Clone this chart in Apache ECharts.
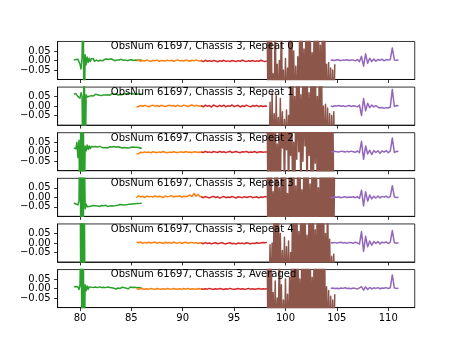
<!DOCTYPE html>
<html><head><meta charset="utf-8">
<script src="https://cdn.jsdelivr.net/npm/echarts@6/dist/echarts.min.js"></script>
<style>html,body{margin:0;padding:0;background:#fff}#c{width:461px;height:346px}</style>
</head><body><div id="c"></div>
<script>
const titles = ["ObsNum 61697, Chassis 3, Repeat 0","ObsNum 61697, Chassis 3, Repeat 1","ObsNum 61697, Chassis 3, Repeat 2","ObsNum 61697, Chassis 3, Repeat 3","ObsNum 61697, Chassis 3, Repeat 4","ObsNum 61697, Chassis 3, Averaged"];
const xTicks = [80,85,90,95,100,105,110];
const yTicks = [-0.05,0,0.05];
const titleX = 83, titleY = 0.072;

// sampling of each band (x start, x step)
const greenStart=79.4, greenStep=0.1;
const orangeStart=85.5, orangeStep=0.2;
const redStart=91.8, redStep=0.2;
const brownStart=98.2, brownStep=0.1;
const purpleStart=104.4, purpleStep=0.2;

// ---- Repeat 0 ----
const green0=[.003,0,.005,-.004,.006,.012,-.02,-.045,.015,.4,
-.4,.03,-.022,.018,-.01,.012,-.006,.009,0,.01,
-.004,.006,.002,.008,-.003,.005,.001,.007,-.002,.004,
.006,.001,.008,-.002,.005,.003,.009,0,.004,.007,
-.001,.006,.002,.008,.003,-.002,.006,.004,.001,.007,
.003,.009,-.001,.005,.002,.006,.004,.008,0,.005,
.003,.007,.001,.006,.002,.004,.003];
const orange0=[-.001,.002,-.004,0,-.003,.003,-.002,-.005,.001,-.002,
.002,-.004,0,-.001,-.003,.002,-.002,.001,-.004,-.001,
.003,-.002,0,-.003,.002,-.001,-.004,.001,-.002,.003,
-.001,-.003,.002];
const red0=[-.002,-.006,.001,-.004,-.001,-.005,0,-.003,-.007,-.001,
-.004,.001,-.005,-.002,-.006,0,-.003,-.005,-.001,-.004,
.002,-.003,-.006,-.001,-.004,0,-.005,-.002,-.004,.001,
-.003,-.006,-.002];
const brown0=[.3,-.3,.3,-.3,.3,-.3,-.07,-.3,.3,-.3,
-.02,-.3,0,-.3,.3,-.3,-.05,-.3,.01,-.3,
-.04,-.3,.3,-.3,.3,-.3,.05,-.3,-.03,-.3,
.02,-.3,.3,-.3,.3,-.3,.06,-.3,.3,-.3,
.3,-.3,.3,-.3,.04,-.3,.3,-.3,.3,-.3,
.3,-.3,.08,-.3,.3,-.3,.3,-.3,-.02,-.3,
-.01,-.3,-.04,-.3,-.05,-.3,-.02];
const purple0=[.001,.003,0,.004,.002,-.001,.003,.001,.004,0,
.003,.002,-.002,.005,-.006,.022,-.03,.035,-.015,.012,
-.006,.008,-.004,.006,.001,.007,-.002,.005,.002,.004,
.066,.003,.001,.002];

// ---- Repeat 1 ----
const green1=[.063,.058,.066,.06,.05,.045,.042,.07,.05,-.4,
.4,-.4,.06,.048,.058,.052,.062,.055,.06,.053,
.058,.062,.055,.06,.064,.057,.061,.056,.063,.059,
.062,.058,.065,.06,.063,.057,.061,.066,.059,.063,
.06,.065,.062,.058,.064,.061,.067,.06,.063,.066,
.062,.065,.06,.067,.063,.066,.061,.065,.068,.063,
.066,.062,.067,.064,.066,.063,.065];
const orange1=[-.006,-.002,.003,-.001,.004,0,-.003,.002,.005,-.001,
.003,-.002,.004,.001,-.003,.002,.005,0,.003,-.002,
.004,.001,-.001,.005,.002,-.002,.003,.006,0,.004,
.002,-.001,.003];
const red1=[.002,-.004,.005,-.001,.003,-.005,.006,0,-.003,.004,
-.002,.005,-.004,.002,-.001,.006,-.003,.001,.004,-.005,
.002,-.002,.005,0,-.004,.003,-.001,.004,-.003,.002,
-.002,.001,-.001];
const brown1=[-.3,-.3,-.3,.02,-.3,.07,-.3,-.04,-.3,.055,
-.3,-.06,-.3,.04,-.3,-.03,-.3,-.07,-.3,-.02,
-.3,-.05,-.3,.3,-.3,.3,-.3,.05,-.3,.3,
-.3,.3,-.3,.06,-.3,.3,-.3,.3,-.3,.3,
-.3,.07,-.3,.3,-.3,.3,-.3,.3,-.3,.05,
-.3,.3,-.3,.3,-.3,0,-.3,.01,-.3,-.01,
-.3,-.04,-.3,-.05,-.3,-.03,-.3];
const purple1=[.001,-.002,.002,0,.003,-.001,.002,-.003,.001,.003,
-.002,.002,0,-.004,.006,-.05,.04,-.025,.015,-.008,
.006,-.004,.003,-.006,-.01,-.007,-.012,-.008,-.01,-.005,
.088,-.002,.003,.002];

// ---- Repeat 2 ----
const green2=[.02,.025,.015,.05,-.03,.06,-.4,.4,-.4,.4,
-.4,.03,.005,.035,.012,.03,.016,.028,.02,.026,
.022,.027,.019,.025,.023,.028,.02,.024,.026,.021,
.025,.022,.027,.02,.024,.026,.021,.025,.023,.027,
.02,.024,.022,.026,.021,.023,.025,.02,.024,.022,
.025,.021,.023,.019,.024,.022,.02,.025,.021,.023,
.02,.024,.019,.022,.021,.018,.022];
const orange2=[-.012,-.01,-.003,-.005,-.001,-.004,-.002,-.006,0,-.003,
-.005,-.001,-.004,.001,-.003,-.006,-.002,-.004,0,-.003,
-.005,-.001,-.002,-.004,.001,-.003,-.002,-.005,0,-.002,
-.004,-.001,-.003];
const red2=[-.001,-.004,.002,-.003,-.001,-.005,.001,-.002,-.004,.002,
-.003,0,-.005,-.001,.002,-.004,-.002,.001,-.003,-.005,
0,-.002,.002,-.004,-.001,-.003,.001,-.005,-.002,0,
-.003,-.001,-.002];
const brown2=[.3,-.3,.3,-.3,.3,-.3,.3,-.3,.3,-.3,
.04,-.3,.3,-.3,.3,.02,.3,-.3,.3,.01,
.3,-.3,.3,-.02,.3,-.3,.05,-.3,.3,-.04,
.3,0,.3,-.3,.3,-.05,.3,.03,.3,-.3,
.3,-.02,.3,-.3,.3,-.3,.3,-.06,.3,-.3,
.3,-.3,.3,-.3,.3,-.3,.3,-.3,.3,-.3,
.3,-.3,.3,-.3,.3,-.3,-.3];
const purple2=[.001,-.001,.002,0,-.002,.003,.001,-.002,.002,-.001,
.003,0,-.003,.004,-.005,.055,-.04,.03,-.012,.008,
-.015,.006,-.004,.005,-.008,.004,-.002,.006,-.005,.003,
.072,-.004,.002,.001];

// ---- Repeat 3 ----
const green3=[-.03,-.028,-.035,-.025,-.04,-.02,.4,-.4,.4,-.4,
.4,-.06,-.035,-.05,-.04,-.048,-.042,-.046,-.05,-.043,
-.047,-.044,-.049,-.045,-.042,-.048,-.046,-.043,-.047,-.044,
-.046,-.042,-.045,-.048,-.043,-.046,-.041,-.044,-.042,-.045,
-.041,-.043,-.039,-.042,-.04,-.038,-.041,-.039,-.037,-.04,
-.036,-.039,-.035,-.037,-.034,-.036,-.033,-.035,-.032,-.034,
-.031,-.033,-.03,-.032,-.029,-.031,-.03];
const orange3=[-.002,.008,.002,.006,-.001,.007,.003,.005,.001,.008,
.002,.006,.004,-.001,.007,.003,.005,.009,.002,.006,
.004,.008,.001,.006,.003,.007,.012,.004,.02,.006,
.015,.003,.005];
const red3=[.003,-.002,.004,0,-.003,.002,.005,-.001,.003,-.004,
.001,.004,-.002,.002,-.001,.005,0,-.003,.003,.001,
-.002,.004,-.001,.002,.005,-.002,.001,.003,-.003,.002,
0,.004,.001];
const brown3=[.3,-.3,.3,-.3,.3,-.3,.03,-.3,.3,-.3,
.3,-.3,.05,-.3,.3,-.3,.3,-.3,.3,-.3,
.02,-.3,.3,-.3,.3,-.3,.3,-.3,.06,-.3,
.3,-.3,.3,-.3,.04,-.3,.3,-.3,.3,-.3,
.3,-.3,.07,-.3,.3,-.3,.3,-.3,.3,-.3,
.05,-.3,.3,-.3,.3,-.3,.3,-.3,.3,-.3,
.3,-.3,.3,-.3,.3,-.3,.3];
const purple3=[.001,-.001,.002,0,.003,-.002,.001,.003,-.001,.002,
0,.003,-.002,.004,-.006,.038,-.045,.03,-.02,.012,
-.008,.006,-.004,.007,-.003,.005,.001,.006,-.002,.004,
.061,.002,-.001,.001];

// ---- Repeat 4 ----
const green4=[.5,.5,.5,.5,.5,.5,.5,-.5,.5,-.5,
.5,-.5,-.5,-.5,-.5,-.5,-.5,-.5,-.5,-.5,
-.5,-.5,-.5,-.5,-.5,-.5,-.5,-.5,-.5,-.5,
-.5,-.5,-.5,-.5,-.5,-.5,-.5,-.5,-.5,-.5,
-.5,-.5,-.5,-.5,-.5,-.5,-.5,-.5,-.5,-.5,
-.5,-.5,-.5,-.5,-.5,-.5,-.5,-.5,-.5,-.5,
-.5,-.5,-.5,-.5,-.5,-.5,-.5];
const orange4=[.004,.001,.005,-.002,.003,0,.004,-.001,.002,.005,
-.002,.003,.001,-.003,.004,0,.002,-.002,.005,.001,
-.001,.003,-.003,.002,.004,-.002,.001,.003,-.001,.002,
-.003,.001,0];
const red4=[-.001,-.004,.002,-.003,0,-.005,-.001,.001,-.004,-.002,
.002,-.003,-.005,-.001,.001,-.004,-.002,-.006,0,-.003,
-.001,-.004,.001,-.002,-.005,-.001,-.003,.001,-.002,0,
.002,.001,.003];
const brown4=[-.3,-.3,-.3,-.01,-.3,0,-.3,.3,-.3,.3,
-.3,.3,-.3,.05,-.3,-.04,-.3,.03,-.3,-.02,
-.3,.01,-.3,-.05,-.3,.3,-.3,.3,-.3,.3,
-.3,.06,-.3,.3,-.3,.3,-.3,.3,-.3,.04,
-.3,.3,-.3,.3,-.3,.3,-.3,.07,-.3,.3,
-.3,.3,-.3,.3,-.3,.3,-.3,.05,-.3,.3,
-.3,.02,-.3,-.07,-.3,-.06,-.3];
const purple4=[.002,0,.003,-.001,.002,.004,0,.002,-.002,.003,
.001,-.002,.004,0,-.006,.06,-.045,.035,-.02,.01,
-.012,.007,-.003,.008,-.005,.004,.001,.006,-.003,.004,
.065,.001,-.002,.002];

// ---- Averaged ----
const green5=[.009,.004,.011,.002,.008,-.005,.015,.4,-.4,.4,
-.4,.02,-.012,.014,-.004,.009,.001,.007,-.002,.006,
.002,.008,-.001,.005,.003,.009,0,.006,.002,.007,
-.002,.005,.003,.008,.001,.006,-.001,.004,.007,.002,
.005,-.002,.006,.003,.008,0,.004,.007,.001,.005,
.009,.002,.006,-.001,.005,.008,.002,.006,.003,.007,
.001,.005,.003,.006,.002,.004,.003];
const orange5=[-.001,-.003,0,-.002,-.004,-.001,-.003,.001,-.002,-.004,
0,-.002,-.003,-.001,-.004,.001,-.002,-.003,0,-.002,
-.004,-.001,-.003,0,-.002,.001,-.003,-.001,-.002,-.004,
0,-.002,-.001];
const red5=[-.002,-.004,-.001,-.003,.001,-.002,-.004,-.001,-.003,0,
-.002,-.005,-.001,-.003,.001,-.002,-.004,-.002,0,-.003,
-.001,-.004,-.002,.001,-.003,-.001,-.004,-.002,0,-.003,
-.001,-.002,-.001];
const brown5=[.3,-.3,.3,-.3,.3,-.3,-.02,-.3,.04,-.3,
-.05,-.3,.3,-.3,.02,-.3,-.06,-.3,.05,-.3,
-.03,-.3,.06,-.3,.3,-.3,.3,-.3,.3,-.3,
.3,-.3,.05,-.3,.3,-.3,.3,-.3,.3,-.3,
.3,-.3,.3,-.3,.06,-.3,.3,-.3,.3,-.3,
.3,-.3,.3,-.3,.3,-.3,.3,-.3,.01,-.3,
-.01,-.3,-.04,-.3,-.06,-.3,-.03];
const purple5=[.001,.003,0,.002,-.001,.003,.001,.004,0,.002,
-.001,.003,.001,-.002,.004,.01,-.008,.009,-.005,.006,
-.002,.004,.001,.005,-.001,.003,.002,.005,0,.004,
.072,.003,.001,.002];

const panels = [
  [green0,orange0,red0,brown0,purple0],
  [green1,orange1,red1,brown1,purple1],
  [green2,orange2,red2,brown2,purple2],
  [green3,orange3,red3,brown3,purple3],
  [green4,orange4,red4,brown4,purple4],
  [green5,orange5,red5,brown5,purple5]
];
const bands = [[greenStart,greenStep],[orangeStart,orangeStep],[redStart,redStep],[brownStart,brownStep],[purpleStart,purpleStep]];
const colors = ['#2ca02c','#ff7f0e','#d62728','#8c564b','#9467bd'];

const X0 = 57.6, W = 357.12, TOP0 = 41.47, H = 38.01, STEP = 45.62;
const FONT = 'DejaVu Sans';
const chart = echarts.init(document.getElementById('c'), null, {renderer:'canvas'});

const grids=[], xAxes=[], yAxes=[], series=[];
const isTick = v => yTicks.some(t => Math.abs(t - v) < 1e-9);
panels.forEach((vals,k)=>{
  grids.push({left:X0, top:TOP0+k*STEP, width:W, height:H, show:true, borderColor:'#000', borderWidth:0.8, backgroundColor:'transparent', containLabel:false});
  xAxes.push({type:'value', gridIndex:k, min:77.82, max:112.58,
    axisLine:{show:true, onZero:false, lineStyle:{color:'#000', width:0.8}}, splitLine:{show:false},
    axisTick:{show:true, inside:false, length:3.5, customValues:xTicks, lineStyle:{color:'#000', width:0.8}},
    axisLabel:{show:true, customValues:xTicks, margin:6, fontSize:10, fontFamily:FONT,
      color: k===5 ? '#000' : 'rgba(0,0,0,0)'}});
  yAxes.push({type:'value', gridIndex:k, min:-0.1, max:0.1, interval:0.05,
    axisLine:{show:true, onZero:false, lineStyle:{color:'#000', width:0.8}}, splitLine:{show:false},
    axisTick:{show:true, inside:false, length:3.5, customValues:yTicks, lineStyle:{color:'#000', width:0.8}},
    axisLabel:{show:true, margin:7, fontSize:10, fontFamily:FONT, color:'#000', showMinLabel:false, showMaxLabel:false,
      formatter:v=> isTick(v) ? (v<-1e-9?'\u2212':'') + Math.abs(v).toFixed(2) : ''}});
  vals.forEach((arr,j)=>{
    const [s,st]=bands[j];
    series.push({type:'line', xAxisIndex:k, yAxisIndex:k, showSymbol:false, symbol:'none', silent:true,
      clip:true, animation:false,
      lineStyle:{color:colors[j], width:1.5, join:'round'},
      data: arr.map((v,i)=>[Math.round((s+i*st)*1000)/1000, v])});
  });
});

chart.setOption({animation:false, grid:grids, xAxis:xAxes, yAxis:yAxes, series:series});

const graphics = titles.map((t,k)=>{
  const p = chart.convertToPixel({gridIndex:k},[titleX,titleY]);
  return {type:'text', x:p[0], y:p[1], z:100, silent:true,
    style:{text:t, fontSize:10, fontFamily:FONT, fill:'#000', align:'left', verticalAlign:'middle'}};
});
chart.setOption({graphic:graphics});
</script></body></html>
